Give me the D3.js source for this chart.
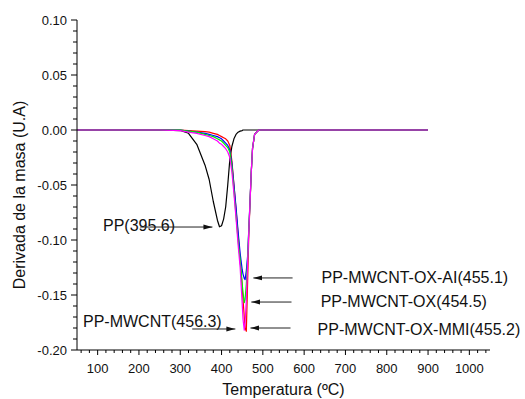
<!DOCTYPE html>
<html>
<head>
<meta charset="utf-8">
<script src="https://cdn.jsdelivr.net/npm/d3@7"></script>
<style>
  body { margin: 0; background: #fff; }
  text { font-family: "Liberation Sans", Arial, sans-serif; fill: #111; }
</style>
</head>
<body>
<svg></svg>
<script>
  // DTG curves
  const temps = [50,100,150,200,250,300,320,340,360,370,380,390,395,400,405,410,415,420,425,430,435,440,445,450,452,455,457,460,463,466,469,472,475,480,490,500,550,600,700,800,900];
  const pp    = [0,0,0,0,0,-0.0005, -0.003,-0.013,-0.032,-0.045,-0.065,-0.082,-0.088,
                 -0.087,-0.081,-0.070,-0.050,-0.027,-0.015,-0.008,-0.004,-0.002,-0.001,-0.0005,
                 0,0,0,0,0,0,0,0,0,0,0,0,0,0,0,0,0];
  const ppMwcnt = [0,0,0,0,0,0, -0.0005,-0.001,-0.0015,-0.002,-0.003,-0.004,-0.005,
                 -0.006,-0.007,-0.008,-0.010,-0.014,-0.028,-0.050,-0.072,-0.095,-0.118,-0.142,
                 -0.154,-0.170,-0.180,-0.183,-0.140,-0.095,-0.066,-0.038,-0.017,-0.004,0,0,0,0,0,0,0];
  const ppAi  = [0,0,0,0,0,0, -0.001,-0.002,-0.003,-0.004,-0.005,-0.006,-0.007,
                 -0.008,-0.010,-0.012,-0.014,-0.018,-0.030,-0.050,-0.070,-0.092,-0.112,-0.127,
                 -0.131,-0.135,-0.136,-0.128,-0.115,-0.090,-0.064,-0.038,-0.017,-0.004,0,0,0,0,0,0,0];
  const ppOx  = [0,0,0,0,0,0, -0.001,-0.002,-0.004,-0.005,-0.006,-0.008,-0.009,
                 -0.010,-0.012,-0.014,-0.016,-0.020,-0.033,-0.055,-0.078,-0.100,-0.118,-0.140,
                 -0.148,-0.157,-0.154,-0.140,-0.118,-0.091,-0.065,-0.038,-0.017,-0.004,0,0,0,0,0,0,0];
  const ppMmi = [0,0,0,0,0,-0.0005, -0.002,-0.003,-0.005,-0.006,-0.008,-0.010,-0.012,
                 -0.013,-0.015,-0.017,-0.020,-0.025,-0.038,-0.058,-0.080,-0.104,-0.125,-0.158,
                 -0.172,-0.182,-0.175,-0.155,-0.122,-0.092,-0.065,-0.038,-0.017,-0.004,0,0,0,0,0,0,0];

  const seriesNames  = ["PP", "PP-MWCNT", "PP-MWCNT-OX-AI", "PP-MWCNT-OX", "PP-MWCNT-OX-MMI"];
  const seriesValues = [pp, ppMwcnt, ppAi, ppOx, ppMmi];
  const seriesColors = ["#000000", "#ff0000", "#0000ff", "#00ee00", "#ff00ff"];

  const xTicks = [100,200,300,400,500,600,700,800,900,1000];
  const yTicks = [0.10,0.05,0.00,-0.05,-0.10,-0.15,-0.20];

  // annotation labels and their arrows (data units)
  const annoText = ["PP(395.6)", "PP-MWCNT(456.3)", "PP-MWCNT-OX-AI(455.1)", "PP-MWCNT-OX(454.5)", "PP-MWCNT-OX-MMI(455.2)"];
  const annoTextPos = [[113,-0.0914],[64.6,-0.1795],[642,-0.1395],[640,-0.1605],[632.5,-0.186]];
  const annoArrows  = [[203,378,-0.0882],[329,433.5,-0.1809],[572,477,-0.1345],[569.4,472,-0.1564],[567,470,-0.18]];

  const width = 525, height = 399;

  const x = d3.scaleLinear().domain([50, 1050]).range([77, 490]);
  const y = d3.scaleLinear().domain([-0.20, 0.10]).range([350, 20]);

  const svg = d3.select("svg")
      .attr("width", width)
      .attr("height", height);

  svg.append("defs").append("marker")
      .attr("id", "head")
      .attr("viewBox", "0 0 10 10")
      .attr("refX", 10).attr("refY", 5)
      .attr("markerWidth", 9).attr("markerHeight", 9)
      .attr("markerUnits", "userSpaceOnUse")
      .attr("orient", "auto")
    .append("path")
      .attr("d", "M0,2.2 L10,5 L0,7.8 Z")
      .attr("fill", "#111");

  // curves
  const line = d3.line().x((d, i) => x(temps[i])).y(d => y(d));
  svg.append("g")
    .selectAll("path")
    .data(seriesValues)
    .join("path")
      .attr("fill", "none")
      .attr("stroke", (d, i) => seriesColors[i])
      .attr("stroke-width", 1.2)
      .attr("stroke-linejoin", "round")
      .attr("d", line);

  // x axis
  const xAxis = svg.append("g").attr("transform", `translate(0,${y(-0.20)})`);
  xAxis.append("line")
      .attr("x1", x(50)).attr("x2", x(1050))
      .attr("stroke", "#000");
  xAxis.selectAll(".minor")
    .data(d3.range(60, 1050, 20).filter(v => v % 100 !== 0))
    .join("line")
      .attr("x1", d => x(d)).attr("x2", d => x(d))
      .attr("y1", 0).attr("y2", 3)
      .attr("stroke", "#000");
  xAxis.selectAll(".major")
    .data(xTicks)
    .join("line")
      .attr("x1", d => x(d)).attr("x2", d => x(d))
      .attr("y1", 0).attr("y2", 5)
      .attr("stroke", "#000");
  xAxis.selectAll("text")
    .data(xTicks)
    .join("text")
      .attr("x", d => x(d))
      .attr("y", 23)
      .attr("text-anchor", "middle")
      .style("font-size", "13px")
      .text(d => d);

  // y axis
  const yAxis = svg.append("g").attr("transform", `translate(${x(50)},0)`);
  yAxis.append("line")
      .attr("y1", y(0.10)).attr("y2", y(-0.20))
      .attr("stroke", "#000");
  yAxis.selectAll(".minor")
    .data(d3.range(-19, 10).filter(v => v % 5 !== 0).map(v => v / 100))
    .join("line")
      .attr("y1", d => y(d)).attr("y2", d => y(d))
      .attr("x1", -4).attr("x2", 0)
      .attr("stroke", "#000");
  yAxis.selectAll(".major")
    .data(yTicks)
    .join("line")
      .attr("y1", d => y(d)).attr("y2", d => y(d))
      .attr("x1", -6).attr("x2", 0)
      .attr("stroke", "#000");
  yAxis.selectAll("text")
    .data(yTicks)
    .join("text")
      .attr("x", -10)
      .attr("y", d => y(d) + 4.5)
      .attr("text-anchor", "end")
      .style("font-size", "13px")
      .text(d => d3.format(".2f")(d).replace("−", "-"));

  // axis titles
  svg.append("text")
      .attr("x", (x(50) + x(1050)) / 2)
      .attr("y", 395)
      .attr("text-anchor", "middle")
      .style("font-size", "16px")
      .text("Temperatura (ºC)");
  svg.append("text")
      .attr("transform", `translate(25,${(y(0.10) + y(-0.20)) / 2 + 10}) rotate(-90)`)
      .attr("text-anchor", "middle")
      .style("font-size", "16px")
      .text("Derivada de la masa (U.A)");

  // annotations
  svg.append("g")
    .selectAll("text")
    .data(annoText)
    .join("text")
      .attr("x", (d, i) => x(annoTextPos[i][0]))
      .attr("y", (d, i) => y(annoTextPos[i][1]))
      .style("font-size", "16px")
      .text(d => d);
  svg.append("g")
    .selectAll("line")
    .data(annoArrows)
    .join("line")
      .attr("x1", d => x(d[0])).attr("x2", d => x(d[1]))
      .attr("y1", d => y(d[2])).attr("y2", d => y(d[2]))
      .attr("stroke", "#222")
      .attr("stroke-width", 1)
      .attr("marker-end", "url(#head)");
</script>
</body>
</html>
